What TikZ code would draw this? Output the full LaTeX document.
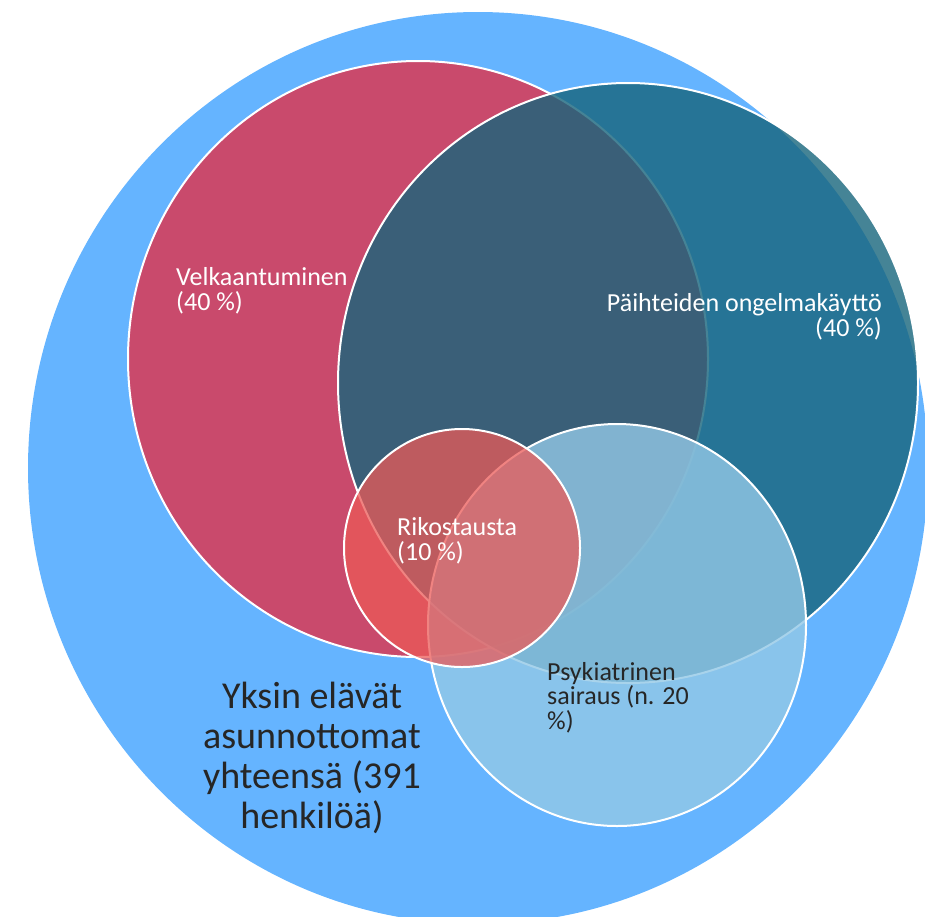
\documentclass[tikz,border=0pt]{standalone}
\usepackage{fontspec}
\setmainfont{Carlito}
\usetikzlibrary{shapes.geometric}

\definecolor{allblue}{RGB}{101,180,255}
\definecolor{debtred}{RGB}{201,74,108}
\definecolor{drugteal}{RGB}{23,101,124}
\definecolor{psychblue}{RGB}{147,200,231}
\definecolor{crimered}{RGB}{235,90,87}
\definecolor{darktext}{RGB}{38,38,38}

\begin{document}
\begin{tikzpicture}[
        x=1pt, y=-1pt,
        setshape/.style={ellipse, inner sep=0pt, draw=white, line width=2pt},
        whitelabel/.style={align=left, inner sep=0pt, text=white, font=\fontsize{26}{24.5}\selectfont},
        darklabel/.style={align=left, inner sep=0pt, text=darktext, font=\fontsize{26}{24.5}\selectfont},
        totallabel/.style={align=center, inner sep=0pt, text=darktext, font=\fontsize{38}{40}\selectfont}
    ]
        \useasboundingbox (0,0) rectangle (925,916);
        \clip (0,0) rectangle (925,916);

        % Sets
        \node (all) [ellipse, inner sep=0pt, fill=allblue, minimum width=900pt, minimum height=912pt] at (478,468) {};
        \node (debt) [setshape, fill=debtred, minimum width=580pt, minimum height=596pt] at (418,359) {};
        \node (drugs) [setshape, fill=drugteal, fill opacity=0.8, minimum width=580pt, minimum height=600pt] at (628,383) {};
        \node (psych) [setshape, fill=psychblue, fill opacity=0.8, minimum width=378pt, minimum height=402pt] at (617,625) {};
        \node (crime) [setshape, fill=crimered, fill opacity=0.75, minimum width=236pt, minimum height=238pt] at (462,548) {};

        % Labels (anchored at the baseline of the last line)
        \node (debtlabel) [whitelabel, anchor=base west] at (176,310) {Velkaantuminen\\(40 \%)};
        \node (druglabel) [whitelabel, align=right, anchor=base east] at (882,336) {Päihteiden ongelmakäyttö\\(40 \%)};
        \node (crimelabel) [whitelabel, anchor=base west] at (397,560) {Rikostausta\\(10 \%)};
        \node (psychlabel) [darklabel, anchor=base west] at (547,729) {Psykiatrinen\\sairaus (n. 20\\\%)};
        \node (alllabel) [totallabel, anchor=base] at (312,828) {Yksin elävät\\asunnottomat\\yhteensä (391\\henkilöä)};

    \end{tikzpicture}
\end{document}
